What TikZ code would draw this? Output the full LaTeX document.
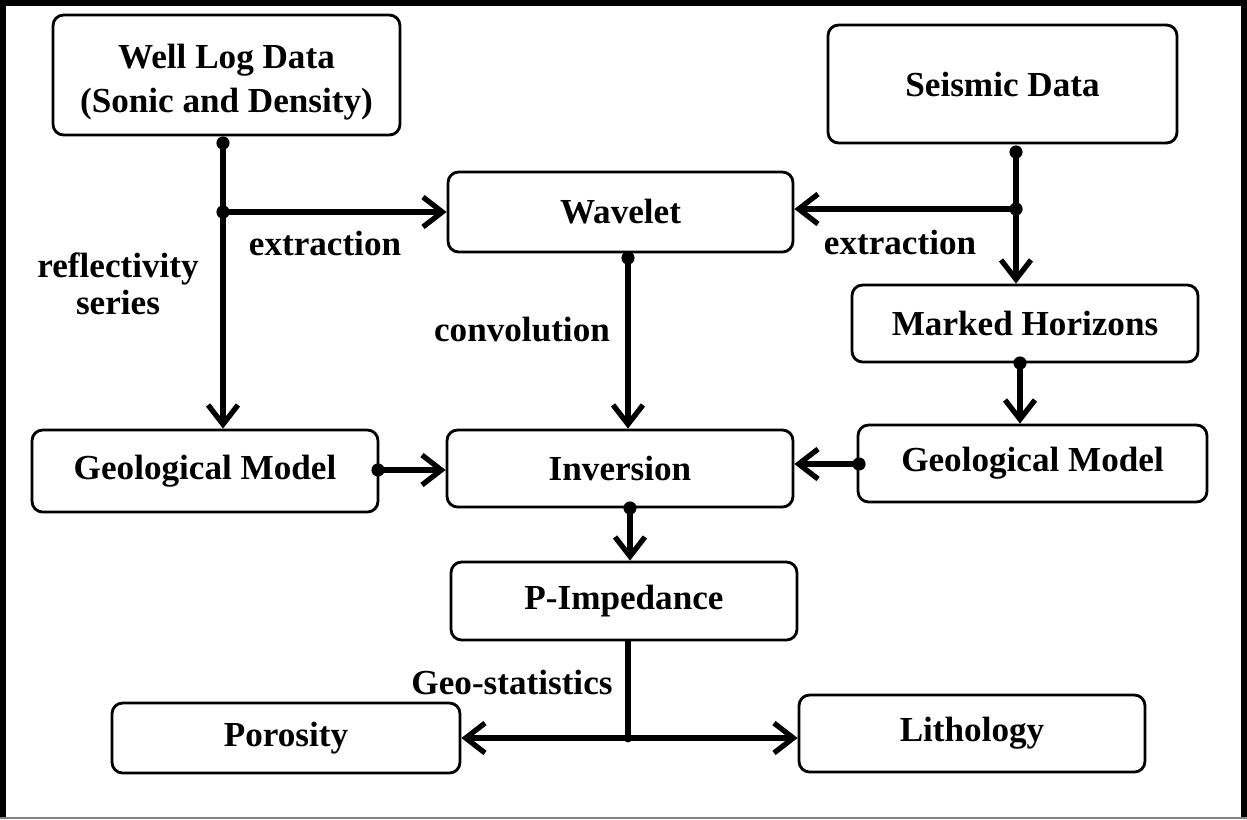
\documentclass[tikz,border=0pt]{standalone}
\usepackage{fontspec}
\setmainfont{Liberation Serif}
\usetikzlibrary{arrows.meta,positioning}
\tikzset{>={Straight Barb[length=11pt,width=17pt]}}
\tikzset{box/.style={draw, line width=1.6pt, rounded corners=6pt, align=center,
    inner sep=0pt, font=\fontsize{20}{25}\selectfont\bfseries}}
\tikzset{lbl/.style={align=center, inner sep=0pt,
    font=\fontsize{20}{21}\selectfont\bfseries}}
\tikzset{dot/.style={circle, fill=black, inner sep=0pt, minimum size=7.5pt}}
\tikzset{flow/.style={line width=3pt}}

\begin{document}
\begin{tikzpicture}[x=0.02cm,y=-0.02cm]
  \useasboundingbox (0,0) rectangle (1247,819);
  % frame
  \draw[line width=3.6pt] (3.2,819) -- (3.2,3) -- (1243.8,3) -- (1243.8,819);
  \draw[gray, line width=1.2pt] (0,818) -- (1247,818);

  % boxes
  \node[box, minimum width=6.94cm, minimum height=2.4cm] (welllog) at (226.5,75)
    {\rule{0pt}{22pt}Well Log Data\\(Sonic and Density)};
  \node[box, minimum width=6.98cm, minimum height=2.36cm] (seismic) at (1002.5,84)
    {Seismic Data};
  \node[box, minimum width=6.9cm, minimum height=1.6cm] (wavelet) at (620.5,212)
    {Wavelet};
  \node[box, minimum width=6.92cm, minimum height=1.54cm] (horizons) at (1025,323.5)
    {Marked Horizons};
  \node[box, minimum width=6.92cm, minimum height=1.64cm] (geoleft) at (205,471)
    {Geological Model};
  \node[box, minimum width=6.92cm, minimum height=1.54cm] (inversion) at (620,468.5)
    {Inversion};
  \node[box, minimum width=6.98cm, minimum height=1.54cm] (georight) at (1032.5,463.5)
    {Geological Model};
  \node[box, minimum width=6.92cm, minimum height=1.56cm] (pimp) at (624,601)
    {P-Impedance};
  \node[box, minimum width=6.96cm, minimum height=1.4cm] (porosity) at (286,738)
    {Porosity};
  \node[box, minimum width=6.92cm, minimum height=1.54cm] (lithology) at (972,733.5)
    {Lithology};

  % labels
  \node[lbl] (extrL) at (325,243) {extraction};
  \node[lbl] (extrR) at (900,242) {extraction};
  \node[lbl] (refl) at (118,284) {reflectivity\\series};
  \node[lbl] (conv) at (522,330) {convolution};
  \node[lbl] (geostat) at (512,682) {Geo-statistics};

  % dots
  \node[dot] (wlDot) at (223,143) {};
  \node[dot] (wlJoin) at (223,212) {};
  \node[dot] (sdDot) at (1016,152) {};
  \node[dot] (sdJoin) at (1016,209) {};
  \node[dot] (wvDot) at (628,258) {};
  \node[dot] (mhDot) at (1020,363) {};
  \node[dot] (glDot) at (378,470) {};
  \node[dot] (grDot) at (859,464) {};
  \node[dot] (invDot) at (630,508) {};
  \node[dot, minimum size=5pt] (gsJoin) at (628,738) {};

  % connectors
  \draw[flow,->] (wlDot.center) -- (wlDot |- geoleft.north);
  \draw[flow,->] (wlJoin.center) -- (wavelet.west |- wlJoin);
  \draw[flow,->] (sdDot.center) -- (sdDot |- horizons.north);
  \draw[flow,->] (sdJoin.center) -- (wavelet.east |- sdJoin);
  \draw[flow,->] (wvDot.center) -- (wvDot |- inversion.north);
  \draw[flow,->] (mhDot.center) -- (mhDot |- georight.north);
  \draw[flow,->] (glDot.center) -- (inversion.west |- glDot);
  \draw[flow,->] (grDot.center) -- (inversion.east |- grDot);
  \draw[flow,->] (invDot.center) -- (invDot |- pimp.north);
  \draw[flow] (gsJoin |- pimp.south) -- (gsJoin.center);
  \draw[flow,->] (gsJoin.center) -- (porosity.east |- gsJoin);
  \draw[flow,->] (gsJoin.center) -- (lithology.west |- gsJoin);
\end{tikzpicture}
\end{document}
